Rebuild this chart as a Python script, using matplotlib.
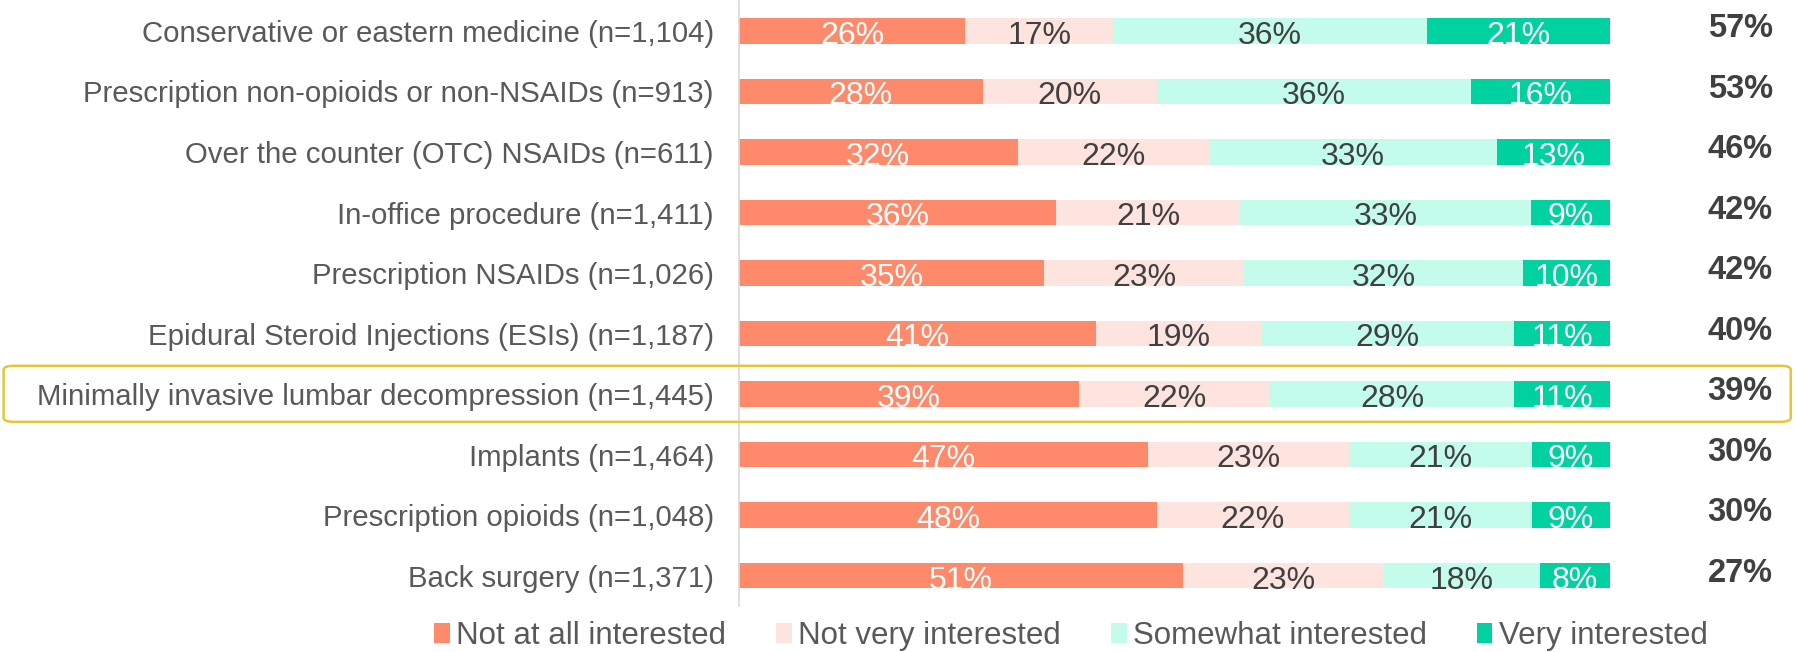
import numpy as np
import matplotlib
matplotlib.use("Agg")
import matplotlib.pyplot as plt
from matplotlib.patches import FancyBboxPatch, Patch

plt.rcParams["font.family"] = ["Liberation Sans", "DejaVu Sans"]

# =========================================
# DATA
# =========================================

categories = [
    "Conservative or eastern medicine (n=1,104)",
    "Prescription non-opioids or non-NSAIDs (n=913)",
    "Over the counter (OTC) NSAIDs (n=611)",
    "In-office procedure (n=1,411)",
    "Prescription NSAIDs (n=1,026)",
    "Epidural Steroid Injections (ESIs) (n=1,187)",
    "Minimally invasive lumbar decompression (n=1,445)",
    "Implants (n=1,464)",
    "Prescription opioids (n=1,048)",
    "Back surgery (n=1,371)",
]

series_names = ["Not at all interested", "Not very interested",
                "Somewhat interested", "Very interested"]

not_at_all = [26, 28, 32, 36, 35, 41, 39, 47, 48, 51]
not_very = [17, 20, 22, 21, 23, 19, 22, 23, 22, 23]
somewhat = [36, 36, 33, 33, 32, 29, 28, 21, 21, 18]
very = [21, 16, 13, 9, 10, 11, 11, 9, 9, 8]

top2 = [57, 53, 46, 42, 42, 40, 39, 30, 30, 27]

highlight_row = 6

colors = ["#FF8A6B", "#FDE4DF", "#C3FCEB", "#00D1A0"]
label_colors = ["white", "#404040", "#404040", "white"]

# =========================================
# PLOT
# =========================================

fig = plt.figure(figsize=(17.97, 6.52), dpi=100)
ax = fig.add_axes([0.4112, 0.0706, 0.4847, 0.9284])

values = np.array([not_at_all, not_very, somewhat, very], dtype=float)
shares = values / values.sum(axis=0) * 100
y = np.arange(len(categories))

left = np.zeros(len(categories))
for k in range(4):
    ax.barh(y, shares[k], left=left, height=0.42, color=colors[k])
    for i in range(len(categories)):
        ax.text(left[i] + shares[k][i] / 2, y[i] + 0.08, f"{int(values[k][i])}%",
                ha="center", va="center", fontsize=23, color=label_colors[k])
    left += shares[k]

ax.set_xlim(0, 100)
ax.set_ylim(len(categories) - 0.5, -0.5)
ax.set_yticks(y)
ax.set_yticklabels(categories, fontsize=21.2, color="#595959")
ax.tick_params(axis="y", length=0, pad=18)
ax.set_xticks([])
for s in ["top", "right", "bottom"]:
    ax.spines[s].set_visible(False)
ax.spines["left"].set_color("#D9D9D9")
ax.spines["left"].set_linewidth(1.2)

for i, v in enumerate(top2):
    ax.text(1.187, y[i] - 0.04, f"{v}%", transform=ax.get_yaxis_transform(),
            ha="right", va="center", fontsize=23.5, fontweight="bold",
            color="#404040")

# highlight box around one row
box = FancyBboxPatch((0.002, 0.353), 0.9945, 0.086,
                     boxstyle="round,pad=0,rounding_size=0.006",
                     transform=fig.transFigure, fill=False,
                     edgecolor="#E2C73A", linewidth=1.8, zorder=5)
fig.patches.append(box)

handles = [Patch(facecolor=c, edgecolor="none") for c in colors]
fig.legend(handles, series_names, loc="center", bbox_to_anchor=(0.596, 0.024),
           ncol=4, frameon=False, fontsize=22.5, labelcolor="#595959",
           handlelength=0.5, handleheight=0.6, handletextpad=0.2,
           columnspacing=1.6)

fig.savefig("out.png", dpi=100)
